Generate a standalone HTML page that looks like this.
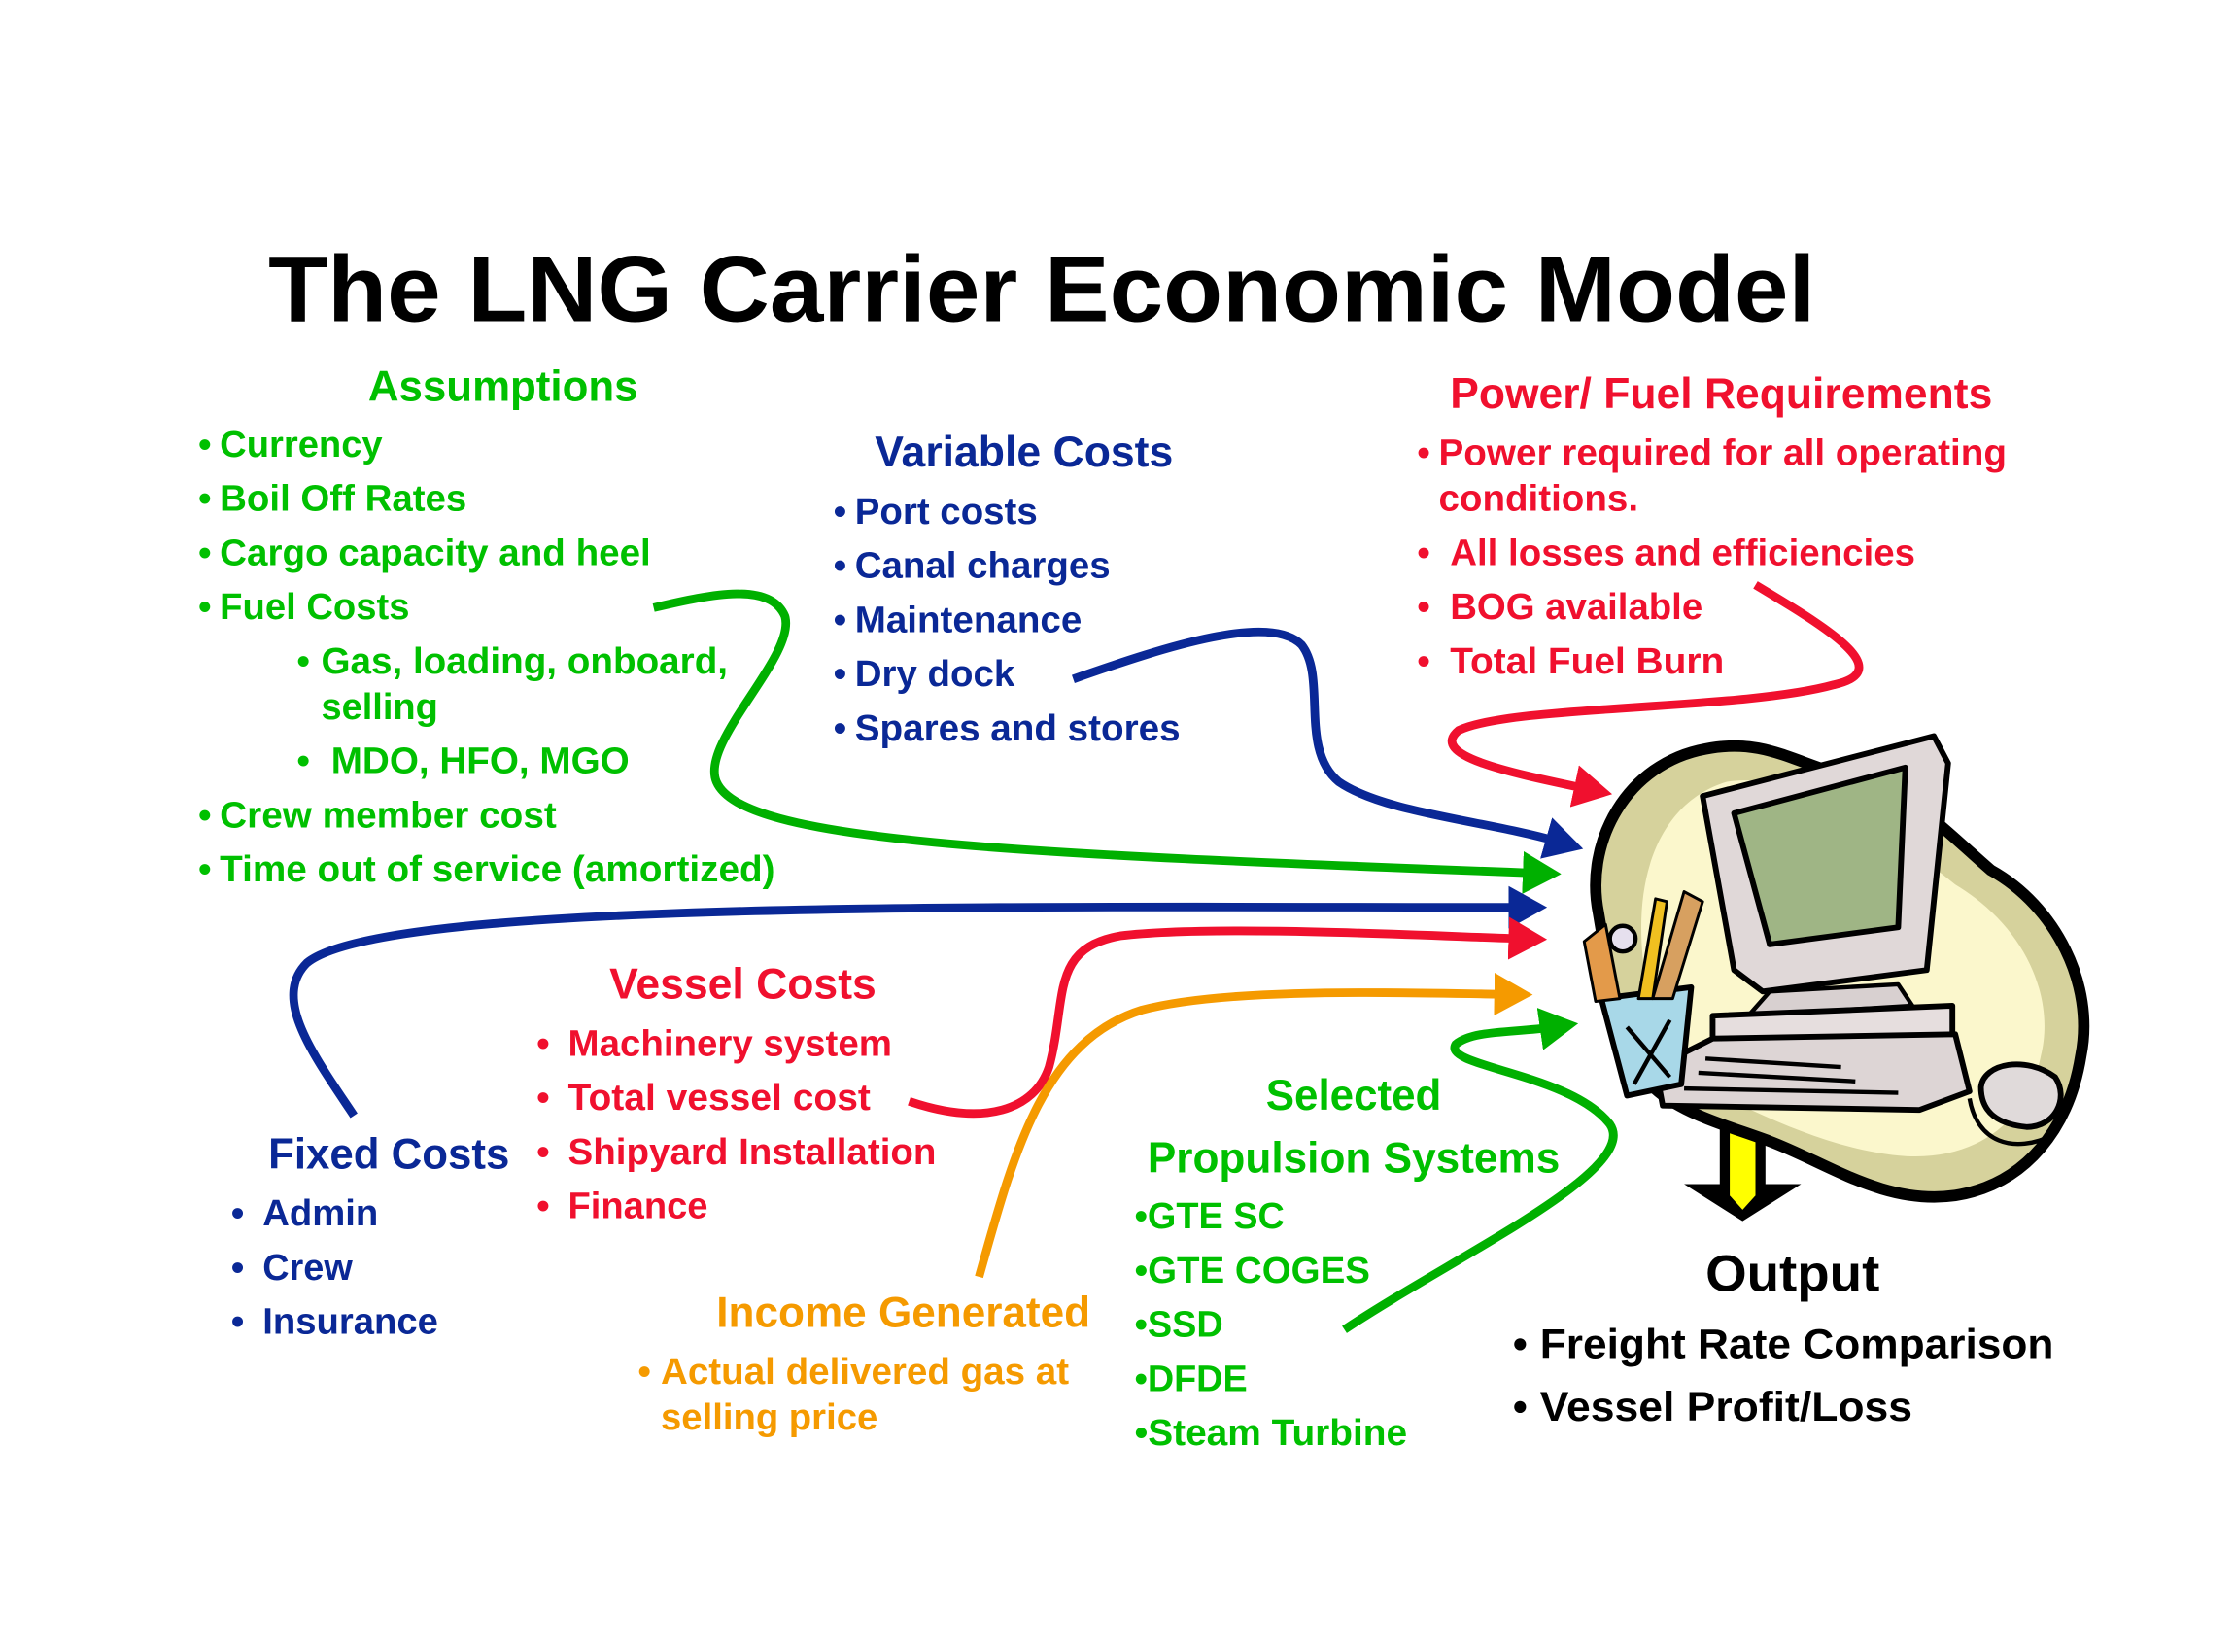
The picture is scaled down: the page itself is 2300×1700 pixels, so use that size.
<!DOCTYPE html>
<html><head><meta charset="utf-8"><style>
html,body{margin:0;padding:0;background:#fff;}
svg{display:block;}
text{font-family:"Liberation Sans Narrow","Liberation Sans",Arial,sans-serif;font-weight:bold;}
.g{fill:#00c000;} .b{fill:#0a2896;} .r{fill:#f0102e;} .o{fill:#f59a00;} .k{fill:#000;}
.t{font-size:26px;} .h{font-size:30px;}
</style></head><body>
<svg width="2300" height="1700" viewBox="0 0 1566 1158" preserveAspectRatio="none" xmlns="http://www.w3.org/2000/svg">
<defs>
<marker id="mg" markerWidth="4.5" markerHeight="5" refX="1.5" refY="2.5" orient="auto" markerUnits="strokeWidth"><path d="M0,0 L4.5,2.5 L0,5 z" fill="#00b000"/></marker>
<marker id="mb" markerWidth="4.5" markerHeight="5" refX="1.5" refY="2.5" orient="auto" markerUnits="strokeWidth"><path d="M0,0 L4.5,2.5 L0,5 z" fill="#0a2896"/></marker>
<marker id="mr" markerWidth="4.5" markerHeight="5" refX="1.5" refY="2.5" orient="auto" markerUnits="strokeWidth"><path d="M0,0 L4.5,2.5 L0,5 z" fill="#f0102e"/></marker>
<marker id="mo" markerWidth="4.5" markerHeight="5" refX="1.5" refY="2.5" orient="auto" markerUnits="strokeWidth"><path d="M0,0 L4.5,2.5 L0,5 z" fill="#f59a00"/></marker>
</defs>

<text x="188" y="225" font-size="66" class="k" textLength="1084" lengthAdjust="spacingAndGlyphs" style="font-family:'Liberation Sans',Arial,sans-serif">The LNG Carrier Economic Model</text>

<text x="258" y="281" class="g h" textLength="189" lengthAdjust="spacingAndGlyphs">Assumptions</text>
<g class="g t">
<text x="139" y="320">•</text><text x="154" y="320" textLength="114" lengthAdjust="spacingAndGlyphs">Currency</text>
<text x="139" y="358">•</text><text x="154" y="358" textLength="173" lengthAdjust="spacingAndGlyphs">Boil Off Rates</text>
<text x="139" y="396">•</text><text x="154" y="396" textLength="302" lengthAdjust="spacingAndGlyphs">Cargo capacity and heel</text>
<text x="139" y="434">•</text><text x="154" y="434" textLength="133" lengthAdjust="spacingAndGlyphs">Fuel Costs</text>
<text x="208" y="472">•</text><text x="225" y="472" textLength="285" lengthAdjust="spacingAndGlyphs">Gas, loading, onboard,</text>
<text x="225" y="504" textLength="82" lengthAdjust="spacingAndGlyphs">selling</text>
<text x="208" y="542">•</text><text x="232" y="542" textLength="209" lengthAdjust="spacingAndGlyphs">MDO, HFO, MGO</text>
<text x="139" y="580">•</text><text x="154" y="580" textLength="236" lengthAdjust="spacingAndGlyphs">Crew member cost</text>
<text x="139" y="618">•</text><text x="154" y="618" textLength="389" lengthAdjust="spacingAndGlyphs">Time out of service (amortized)</text>
</g>

<text x="613" y="327" class="b h" textLength="209" lengthAdjust="spacingAndGlyphs">Variable Costs</text>
<g class="b t">
<text x="584" y="367">•</text><text x="599" y="367" textLength="128" lengthAdjust="spacingAndGlyphs">Port costs</text>
<text x="584" y="405">•</text><text x="599" y="405" textLength="179" lengthAdjust="spacingAndGlyphs">Canal charges</text>
<text x="584" y="443">•</text><text x="599" y="443" textLength="159" lengthAdjust="spacingAndGlyphs">Maintenance</text>
<text x="584" y="481">•</text><text x="599" y="481" textLength="112" lengthAdjust="spacingAndGlyphs">Dry dock</text>
<text x="584" y="519">•</text><text x="599" y="519" textLength="228" lengthAdjust="spacingAndGlyphs">Spares and stores</text>
</g>

<text x="1016" y="286" class="r h" textLength="380" lengthAdjust="spacingAndGlyphs">Power/ Fuel Requirements</text>
<g class="r t">
<text x="993" y="326">•</text><text x="1008" y="326" textLength="398" lengthAdjust="spacingAndGlyphs">Power required for all operating</text>
<text x="1008" y="358" textLength="140" lengthAdjust="spacingAndGlyphs">conditions.</text>
<text x="993" y="396">•</text><text x="1016" y="396" textLength="326" lengthAdjust="spacingAndGlyphs">All losses and efficiencies</text>
<text x="993" y="434">•</text><text x="1016" y="434" textLength="177" lengthAdjust="spacingAndGlyphs">BOG available</text>
<text x="993" y="472">•</text><text x="1016" y="472" textLength="192" lengthAdjust="spacingAndGlyphs">Total Fuel Burn</text>
</g>

<text x="427" y="700" class="r h" textLength="187" lengthAdjust="spacingAndGlyphs">Vessel Costs</text>
<g class="r t">
<text x="376" y="740">•</text><text x="398" y="740" textLength="227" lengthAdjust="spacingAndGlyphs">Machinery system</text>
<text x="376" y="778">•</text><text x="398" y="778" textLength="212" lengthAdjust="spacingAndGlyphs">Total vessel cost</text>
<text x="376" y="816">•</text><text x="398" y="816" textLength="258" lengthAdjust="spacingAndGlyphs">Shipyard Installation</text>
<text x="376" y="854">•</text><text x="398" y="854" textLength="98" lengthAdjust="spacingAndGlyphs">Finance</text>
</g>

<text x="188" y="819" class="b h" textLength="169" lengthAdjust="spacingAndGlyphs">Fixed Costs</text>
<g class="b t">
<text x="162" y="859">•</text><text x="184" y="859" textLength="81" lengthAdjust="spacingAndGlyphs">Admin</text>
<text x="162" y="897">•</text><text x="184" y="897" textLength="63" lengthAdjust="spacingAndGlyphs">Crew</text>
<text x="162" y="935">•</text><text x="184" y="935" textLength="123" lengthAdjust="spacingAndGlyphs">Insurance</text>
</g>

<text x="502" y="930" class="o h" textLength="262" lengthAdjust="spacingAndGlyphs">Income Generated</text>
<g class="o t">
<text x="447" y="970">•</text><text x="463" y="970" textLength="286" lengthAdjust="spacingAndGlyphs">Actual delivered gas at</text>
<text x="463" y="1002" textLength="152" lengthAdjust="spacingAndGlyphs">selling price</text>
</g>

<text x="887" y="778" class="g h" textLength="123" lengthAdjust="spacingAndGlyphs">Selected</text>
<text x="804" y="822" class="g h" textLength="289" lengthAdjust="spacingAndGlyphs">Propulsion Systems</text>
<g class="g t">
<text x="795" y="861" textLength="105" lengthAdjust="spacingAndGlyphs">•GTE SC</text>
<text x="795" y="899" textLength="165" lengthAdjust="spacingAndGlyphs">•GTE COGES</text>
<text x="795" y="937" textLength="62" lengthAdjust="spacingAndGlyphs">•SSD</text>
<text x="795" y="975" textLength="79" lengthAdjust="spacingAndGlyphs">•DFDE</text>
<text x="795" y="1013" textLength="191" lengthAdjust="spacingAndGlyphs">•Steam Turbine</text>
</g>

<text x="1195" y="905" font-size="36" class="k" textLength="122" lengthAdjust="spacingAndGlyphs">Output</text>
<g class="k" font-size="29">
<text x="1060" y="952">•</text><text x="1079" y="952" textLength="360" lengthAdjust="spacingAndGlyphs">Freight Rate Comparison</text>
<text x="1060" y="996">•</text><text x="1079" y="996" textLength="261" lengthAdjust="spacingAndGlyphs">Vessel Profit/Loss</text>
</g>

<g fill="none" stroke-width="6" stroke-linecap="butt">
<path d="M458,426 C500,416 540,408 550,432 C558,460 490,520 502,548 C520,590 700,598 1076,612" stroke="#00b000" marker-end="url(#mg)"/>
<path d="M752,476 C820,452 890,430 912,452 C930,475 910,525 938,548 C970,570 1040,575 1092,590" stroke="#0a2896" marker-end="url(#mb)"/>
<path d="M1230,410 C1280,440 1330,470 1285,480 C1220,498 1060,494 1022,512 C1000,530 1060,542 1112,553" stroke="#f0102e" marker-end="url(#mr)"/>
<path d="M248,782 C220,740 190,700 215,675 C270,630 700,636 1066,636" stroke="#0a2896" marker-end="url(#mb)"/>
<path d="M637,772 C690,790 725,778 735,748 C748,700 735,665 785,656 C850,648 1000,656 1066,658" stroke="#f0102e" marker-end="url(#mr)"/>
<path d="M686,895 C710,810 730,730 800,708 C860,692 980,696 1056,697" stroke="#f59a00" marker-end="url(#mo)"/>
<path d="M942,932 C1020,880 1150,820 1128,788 C1100,752 1010,748 1020,732 C1032,722 1060,724 1088,720" stroke="#00b000" marker-end="url(#mg)"/>
</g>

<path d="M1205,784 L1237,784 L1237,830 L1262,830 L1221,856 L1180,830 L1205,830 Z" fill="#000"/>
<path d="M1212,792 L1230,792 L1230,838 L1221,848 L1212,838 Z" fill="#ffff00"/>

<g stroke="#000" stroke-linejoin="round">
<path d="M1120,640 C1110,590 1140,535 1195,525 C1230,518 1250,530 1280,540 C1330,545 1360,580 1395,610 C1440,635 1468,690 1458,740 C1450,790 1420,830 1370,838 C1320,845 1280,815 1240,800 C1200,785 1150,775 1140,730 C1130,700 1125,670 1120,640 Z" fill="#d6d29c" stroke-width="8"/>
<path d="M1150,650 C1150,600 1170,560 1210,548 C1260,540 1320,580 1370,620 C1420,650 1440,700 1430,740 C1420,790 1380,815 1330,810 C1280,805 1230,780 1190,760 C1160,730 1150,690 1150,650 Z" fill="#fbf7cc" stroke="none"/>
<path d="M1193,558 L1355,516 L1365,535 L1350,680 L1235,695 L1215,680 Z" fill="#e0d8d8" stroke-width="4"/>
<path d="M1215,570 L1335,538 L1330,650 L1240,662 Z" fill="#9fb585" stroke-width="4"/>
<path d="M1240,695 L1330,690 L1340,705 L1225,712 Z" fill="#d8d0d0" stroke-width="3"/>
<path d="M1200,712 L1368,705 L1368,738 L1200,742 Z" fill="#e6dede" stroke-width="4"/>
<path d="M1160,748 L1200,728 L1370,725 L1380,765 L1345,778 L1165,775 Z" fill="#ddd5d5" stroke-width="4"/>
<g stroke-width="3" fill="none"><path d="M1195,742 L1290,748"/><path d="M1190,752 L1300,758"/><path d="M1180,763 L1330,766"/></g>
<path d="M1122,700 L1185,692 L1178,760 L1140,768 Z" fill="#a8d8e8" stroke-width="4"/>
<g stroke-width="3" fill="none"><path d="M1140,720 L1170,755"/><path d="M1170,715 L1145,760"/></g>
<path d="M1110,660 L1125,648 L1135,700 L1118,702 Z" fill="#e39a4a" stroke-width="2"/>
<path d="M1158,700 L1180,625 L1193,632 L1172,700 Z" fill="#d7a060" stroke-width="2"/>
<path d="M1148,700 L1160,630 L1168,632 L1158,700 Z" fill="#f0c020" stroke-width="2"/>
<circle cx="1137" cy="658" r="9" fill="#e6e0ee" stroke-width="3"/>
<path d="M1388,762 C1390,745 1420,740 1440,755 C1450,770 1440,790 1420,790 C1400,788 1388,780 1388,762 Z" fill="#e0dada" stroke-width="4"/>
<path d="M1380,770 C1385,800 1410,810 1440,795" fill="none" stroke-width="3"/>
</g>
</svg>
</body></html>
